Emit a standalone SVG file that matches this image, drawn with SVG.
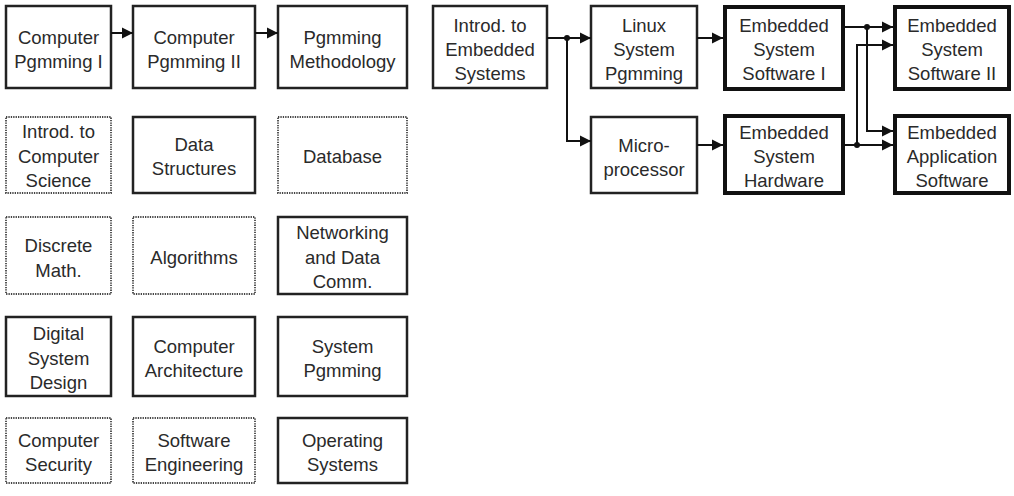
<svg xmlns="http://www.w3.org/2000/svg" width="1014" height="496" viewBox="0 0 1014 496">
<style>
rect{fill:#fff}
.s{stroke:#222;stroke-width:2.5}
.d{stroke:#444;stroke-width:1.8;stroke-dasharray:1.3 1.1}
.t{stroke:#111;stroke-width:4}
text{font-family:"Liberation Sans",Arial,sans-serif;font-size:18.5px;fill:#2a2a2a;text-anchor:middle}
.c path,.c line,.c polyline{fill:none;stroke:#111;stroke-width:2}
.c circle{fill:#111}
</style>
<defs>
<marker id="a" markerUnits="userSpaceOnUse" markerWidth="12" markerHeight="12" refX="11" refY="6" orient="auto">
<path d="M0,0.5 L11,6 L0,11.5 z" fill="#111"/>
</marker>
</defs>
<rect x="0" y="0" width="1014" height="496" fill="#fff"/>

<g id="cp1"><rect class="s" x="6" y="6" width="105" height="82"/><text x="58.5" y="44">Computer</text><text x="58.5" y="68">Pgmming I</text></g>
<g id="cp2"><rect class="s" x="133" y="6" width="122" height="82"/><text x="194" y="44">Computer</text><text x="194" y="68">Pgmming II</text></g>
<g id="pm"><rect class="s" x="278" y="6" width="129" height="82"/><text x="342.5" y="44">Pgmming</text><text x="342.5" y="68">Methodology</text></g>

<g id="ics"><rect class="d" x="6" y="117" width="105" height="76"/><text x="58.5" y="138">Introd. to</text><text x="58.5" y="163">Computer</text><text x="58.5" y="187">Science</text></g>
<g id="ds"><rect class="s" x="133" y="117" width="122" height="76"/><text x="194" y="151">Data</text><text x="194" y="175">Structures</text></g>
<g id="db"><rect class="d" x="278" y="117" width="129" height="76"/><text x="342.5" y="163">Database</text></g>

<g id="dm"><rect class="d" x="6" y="217" width="105" height="77"/><text x="58.5" y="252">Discrete</text><text x="58.5" y="277">Math.</text></g>
<g id="alg"><rect class="d" x="133" y="217" width="122" height="77"/><text x="194" y="264">Algorithms</text></g>
<g id="net"><rect class="s" x="278" y="217" width="129" height="77"/><text x="342.5" y="239">Networking</text><text x="342.5" y="264">and Data</text><text x="342.5" y="288">Comm.</text></g>

<g id="dsd"><rect class="s" x="6" y="317" width="105" height="79"/><text x="58.5" y="340">Digital</text><text x="58.5" y="365">System</text><text x="58.5" y="389">Design</text></g>
<g id="ca"><rect class="s" x="133" y="317" width="122" height="79"/><text x="194" y="353">Computer</text><text x="194" y="377">Architecture</text></g>
<g id="sp"><rect class="s" x="278" y="317" width="129" height="79"/><text x="342.5" y="353">System</text><text x="342.5" y="377">Pgmming</text></g>

<g id="sec"><rect class="d" x="6" y="418" width="105" height="65"/><text x="58.5" y="447">Computer</text><text x="58.5" y="471">Security</text></g>
<g id="se"><rect class="d" x="133" y="418" width="122" height="65"/><text x="194" y="447">Software</text><text x="194" y="471">Engineering</text></g>
<g id="os"><rect class="s" x="278" y="418" width="129" height="65"/><text x="342.5" y="447">Operating</text><text x="342.5" y="471">Systems</text></g>

<g id="ies"><rect class="s" x="433" y="6" width="114" height="82"/><text x="490" y="32">Introd. to</text><text x="490" y="56">Embedded</text><text x="490" y="80">Systems</text></g>
<g id="lsp"><rect class="s" x="591" y="6" width="106" height="82"/><text x="644" y="32">Linux</text><text x="644" y="56">System</text><text x="644" y="80">Pgmming</text></g>
<g id="mp"><rect class="s" x="591" y="117" width="106" height="76"/><text x="644" y="152">Micro-</text><text x="644" y="176">processor</text></g>
<g id="ess1"><rect class="t" x="725" y="7" width="118" height="82"/><text x="784" y="32">Embedded</text><text x="784" y="56">System</text><text x="784" y="80">Software I</text></g>
<g id="esh"><rect class="t" x="725" y="116" width="118" height="77"/><text x="784" y="139">Embedded</text><text x="784" y="163">System</text><text x="784" y="187">Hardware</text></g>
<g id="ess2"><rect class="t" x="895" y="7" width="114" height="82"/><text x="952" y="32">Embedded</text><text x="952" y="56">System</text><text x="952" y="80">Software II</text></g>
<g id="eas"><rect class="t" x="895" y="116" width="114" height="77"/><text x="952" y="139">Embedded</text><text x="952" y="163">Application</text><text x="952" y="187">Software</text></g>

<g id="connectors" class="c">
<line x1="111" y1="33" x2="133" y2="33" marker-end="url(#a)"/>
<line x1="255" y1="33" x2="278" y2="33" marker-end="url(#a)"/>
<line x1="547" y1="38" x2="591" y2="38" marker-end="url(#a)"/>
<polyline points="567,38 567,141 591,141" marker-end="url(#a)"/>
<circle cx="567" cy="38" r="3"/>
<line x1="697" y1="38" x2="723" y2="38" marker-end="url(#a)"/>
<line x1="697" y1="145" x2="723" y2="145" marker-end="url(#a)"/>
<line x1="843" y1="27" x2="893" y2="27" marker-end="url(#a)"/>
<polyline points="867,27 867,131 893,131" marker-end="url(#a)"/>
<circle cx="867" cy="27" r="3"/>
<line x1="843" y1="145" x2="893" y2="145" marker-end="url(#a)"/>
<polyline points="857,145 857,45 893,45" marker-end="url(#a)"/>
<circle cx="857" cy="145" r="3"/>
</g>
</svg>
